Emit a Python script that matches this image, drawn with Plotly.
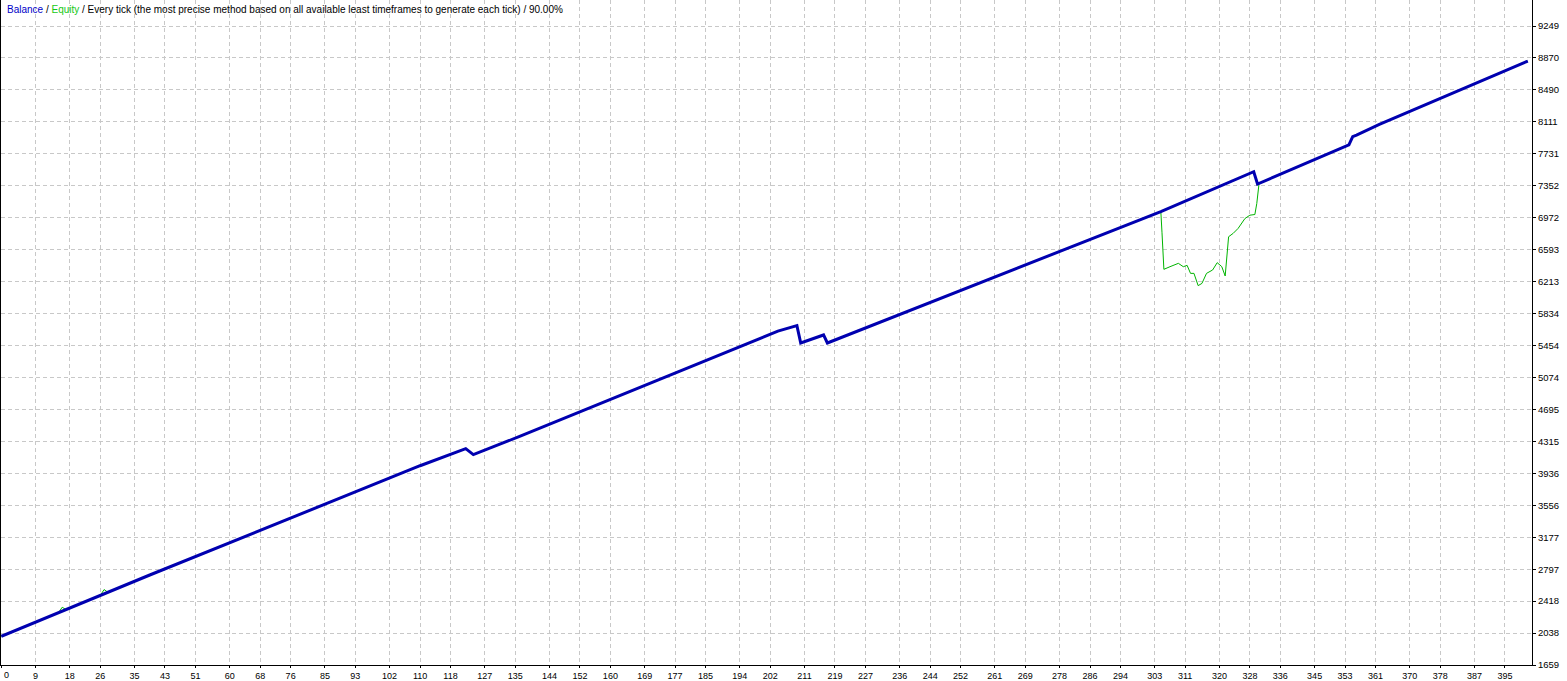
import plotly.graph_objects as go

# ---- data (trade number -> account value) ----
balance_trades = [0, 39, 110, 122, 124, 136, 204, 209, 210, 216, 217, 299, 304.6, 329, 330, 354, 355, 356, 362, 401]
balance_values = [2000, 2728, 4026, 4229, 4158, 4371, 5625, 5690, 5484, 5579, 5484, 6940, 7045, 7518, 7372, 7836, 7935, 7954, 8081, 8832]

equity_trades = [0, 15, 16, 17, 26, 27, 28, 39, 110, 122, 124, 136, 204, 209, 210, 216, 217, 299,
                 304.6, 304.9, 305.4, 307.0, 309.2, 310.5, 311.5, 312.4, 313.3, 314.4, 315.4, 316.6,
                 318.2, 319.4, 320.6, 321.5, 322.0, 322.4, 323.6, 324.9, 326.7, 328.0, 329.3, 329.8,
                 330.4, 354, 355, 356, 362, 401]
equity_values = [2000, 2280, 2345, 2317, 2485, 2555, 2523, 2728, 4026, 4229, 4158, 4371, 5625, 5690, 5484, 5579, 5484, 6940,
                 7045, 6800, 6359, 6390, 6430, 6390, 6406, 6311, 6311, 6165, 6192, 6311,
                 6351, 6438, 6391, 6280, 6509, 6746, 6786, 6845, 6963, 7002, 7010, 7140,
                 7380, 7836, 7935, 7954, 8081, 8832]

x_tick_labels = [0, 9, 18, 26, 35, 43, 51, 60, 68, 76, 85, 93, 102, 110, 118, 127, 135, 144, 152, 160,
                 169, 177, 185, 194, 202, 211, 219, 227, 236, 244, 252, 261, 269, 278, 286, 294, 303,
                 311, 320, 328, 336, 345, 353, 361, 370, 378, 387, 395]
y_tick_labels = [1659, 2038, 2418, 2797, 3177, 3556, 3936, 4315, 4695, 5074, 5454, 5834, 6213,
                 6593, 6972, 7352, 7731, 8111, 8490, 8870, 9249]

title_text = ('<span style="color:#0000c8">Balance</span> / '
              '<span style="color:#14c814">Equity</span> / Every tick (the most precise method based on '
              'all available least timeframes to generate each tick) / 90.00%')

BLUE = "#0000b0"
GREEN = "#00b400"
GRID = "#c8c8c8"
FONT = "Liberation Sans"

# the first label ("0") sits on the frame edge; it is drawn as an annotation nudged inside
x_tick_text = ["" if v == 0 else str(v) for v in x_tick_labels]

fig = go.Figure()
fig.add_trace(go.Scatter(x=equity_trades, y=equity_values, mode="lines",
                         line=dict(color=GREEN, width=1), name="Equity", hoverinfo="skip"))
fig.add_trace(go.Scatter(x=balance_trades, y=balance_values, mode="lines",
                         line=dict(color=BLUE, width=3), name="Balance", hoverinfo="skip"))

fig.update_layout(
    width=1567, height=681,
    margin=dict(l=1, r=35, t=0, b=16, pad=0),
    paper_bgcolor="white", plot_bgcolor="white",
    showlegend=False,
    font=dict(family=FONT, size=9, color="black"),
    xaxis=dict(range=[-0.08, 402.1], tickmode="array", tickvals=x_tick_labels,
               ticktext=x_tick_text,
               showgrid=True, gridcolor=GRID, griddash="4px,3px", gridwidth=1,
               showline=True, linecolor="black", linewidth=1, mirror=False,
               ticks="outside", ticklen=2, tickcolor="black", zeroline=False,
               tickfont=dict(family=FONT, size=9, color="black"), automargin=False),
    yaxis=dict(range=[1659, 9558], side="right", tickmode="array", tickvals=y_tick_labels,
               ticktext=[str(v) for v in y_tick_labels],
               showgrid=True, gridcolor=GRID, griddash="4px,3px", gridwidth=1,
               showline=True, linecolor="black", linewidth=1, mirror=True,
               ticks="outside", ticklen=3, tickcolor="black", zeroline=False,
               tickfont=dict(family=FONT, size=9.5, color="black"), automargin=False),
    annotations=[
        dict(xref="paper", yref="paper", x=0.0026, y=1 - 9 / 665,
             xanchor="left", yanchor="middle", showarrow=False,
             text=title_text, font=dict(family=FONT, size=10, color="black")),
        dict(xref="x", yref="paper", x=x_tick_labels[0], y=0, xshift=1, yshift=-3,
             xanchor="left", yanchor="top", showarrow=False,
             text=str(x_tick_labels[0]), font=dict(family=FONT, size=9, color="black")),
    ],
)

fig.write_html("out.html", config={"displayModeBar": False},
               post_script="document.body.style.margin='0';document.body.style.overflow='hidden';")
